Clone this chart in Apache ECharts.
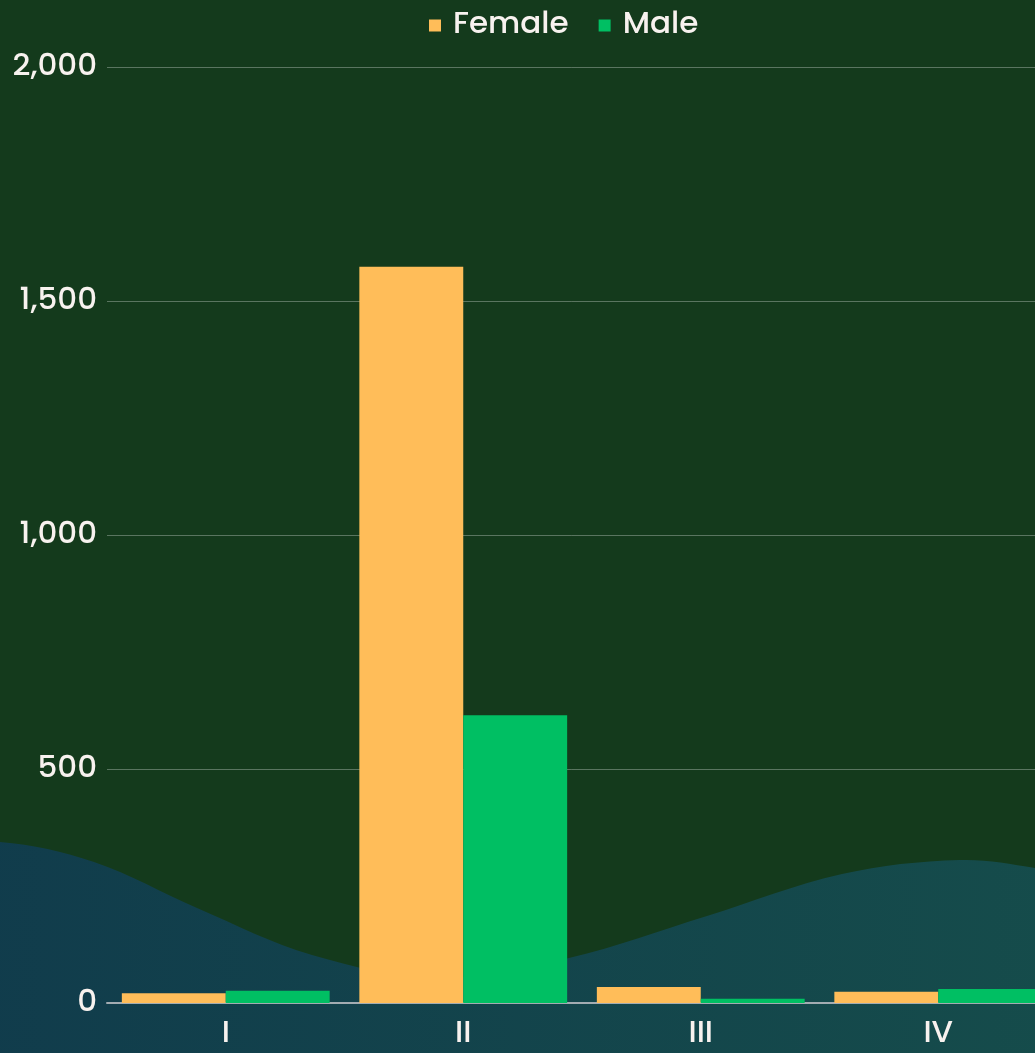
<!DOCTYPE html>
<html>
<head>
<meta charset="utf-8">
<script src="https://cdn.jsdelivr.net/npm/echarts@6/dist/echarts.min.js"></script>
<style>
  html, body { margin: 0; padding: 0; background: #143a1c; }
  #chart { width: 1035px; height: 1053px; }
</style>
</head>
<body>
<div id="chart"></div>
<script>
var categories = ['I', 'II', 'III', 'IV'];
var femaleValues = [21, 1573, 34, 24];
var maleValues = [26, 615, 9, 30];
var yTicks = [0, 500, 1000, 1500, 2000];

var font = 'Poppins, Inter, "Noto Sans", sans-serif';
var textColor = '#f8f2ef';

var myChart = echarts.init(document.getElementById('chart'));
var option = {
    backgroundColor: '#143a1c',
    textStyle: { fontFamily: font },
    graphic: [
        {
            // decorative wave behind the bars (corners pushed off-canvas)
            type: 'polygon',
            z: -10,
            silent: true,
            shape: {
                smooth: 0.35,
                points: [[-100, 845], [0, 842], [94, 862], [197, 908], [312, 955], [440, 978],
                         [569, 958], [707, 916], [842, 874], [960, 860], [1035, 868], [1140, 890],
                         [1140, 1300], [-100, 1300]]
            },
            style: {
                fill: {
                    type: 'linear', x: 0, y: 0, x2: 1, y2: 0,
                    colorStops: [
                        { offset: 0, color: '#103a4c' },
                        { offset: 1, color: '#164e4b' }
                    ]
                }
            }
        }
    ],
    legend: {
        top: 5,
        left: 424,
        icon: 'rect',
        itemWidth: 12,
        itemHeight: 12,
        itemGap: 30,
        textStyle: { color: textColor, fontSize: 31, fontWeight: 500, fontFamily: font, padding: [0, 0, 0, 7] }
    },
    grid: {
        left: 107,
        width: 950,
        top: 67,
        bottom: 50,
        outerBoundsMode: 'none',
        containLabel: false
    },
    xAxis: {
        type: 'category',
        data: categories,
        axisTick: { show: false },
        axisLine: { lineStyle: { color: '#a3acb2', width: 2 } },
        axisLabel: { color: textColor, fontSize: 31, fontWeight: 500, margin: 16, fontFamily: font }
    },
    yAxis: {
        type: 'value',
        min: yTicks[0],
        max: yTicks[yTicks.length - 1],
        interval: 500,
        axisLabel: {
            color: textColor,
            fontSize: 31,
            fontWeight: 500,
            margin: 10,
            fontFamily: font,
            formatter: function (v) { return v.toLocaleString('en-US'); }
        },
        splitLine: { lineStyle: { color: 'rgba(255,255,255,0.3)', width: 1 } }
    },
    series: [
        {
            name: 'Female',
            type: 'bar',
            data: femaleValues,
            barGap: '0%',
            barCategoryGap: '12.5%',
            itemStyle: { color: '#ffbd59' }
        },
        {
            name: 'Male',
            type: 'bar',
            data: maleValues,
            itemStyle: { color: '#00bf63' }
        }
    ]
};
myChart.setOption(option);
</script>
</body>
</html>
